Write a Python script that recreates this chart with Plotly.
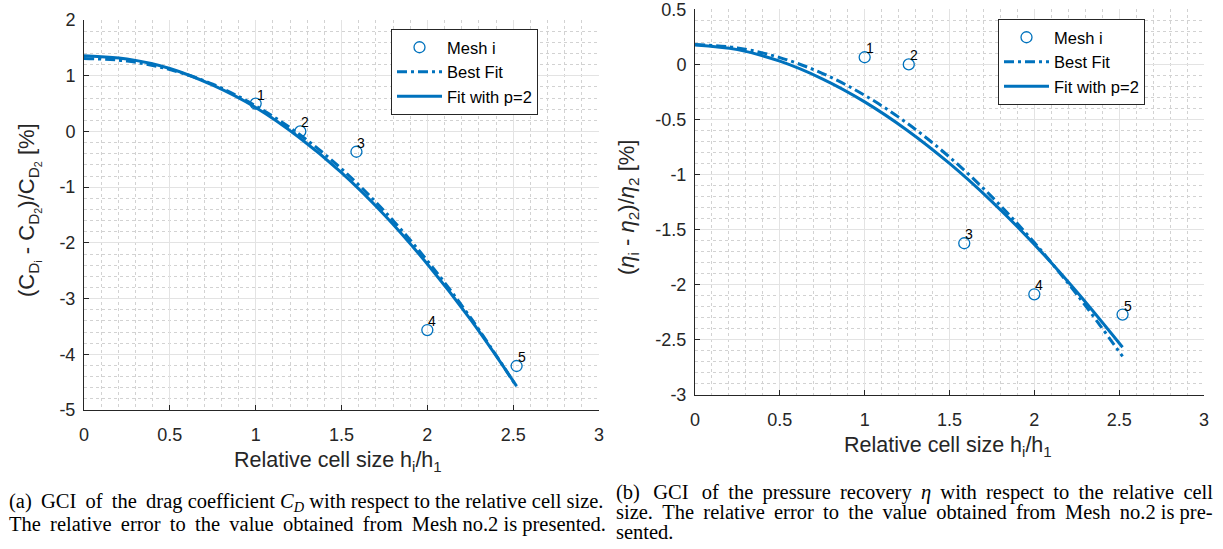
import plotly.graph_objects as go

# ---------------- data ----------------
mesh_x = [1.0, 1.26, 1.587, 2.0, 2.52]
mesh_labels = ["1", "2", "3", "4", "5"]
cd_mesh = [0.50, 0.0, -0.365, -3.565, -4.21]
eta_mesh = [0.065, 0.0, -1.623, -2.086, -2.27]

fit_x = [0, 0.25, 0.5, 0.75, 1.0, 1.25, 1.5, 1.75, 2.0, 2.25, 2.52]
cd_best = [1.31, 1.264, 1.11, 0.847, 0.46, -0.042, -0.67, -1.43, -2.32, -3.335, -4.58]
cd_p2 = [1.36, 1.30, 1.13, 0.83, 0.43, -0.10, -0.74, -1.50, -2.38, -3.37, -4.57]
eta_best = [0.18, 0.150, 0.062, -0.081, -0.28, -0.533, -0.841, -1.202, -1.617, -2.086, -2.65]
eta_p2 = [0.176, 0.134, 0.029, -0.131, -0.340, -0.597, -0.899, -1.245, -1.633, -2.063, -2.567]

x_ticks = [0, 0.5, 1, 1.5, 2, 2.5, 3]
x_ticktext = ["0", "0.5", "1", "1.5", "2", "2.5", "3"]
cd_ticks = [-5, -4, -3, -2, -1, 0, 1, 2]
cd_ticktext = ["-5", "-4", "-3", "-2", "-1", "0", "1", "2"]
eta_ticks = [-3, -2.5, -2, -1.5, -1, -0.5, 0, 0.5]
eta_ticktext = ["-3", "-2.5", "-2", "-1.5", "-1", "-0.5", "0", "0.5"]

legend_names = ["Mesh i", "Best Fit", "Fit with p=2"]

# ---------------- style ----------------
W, H = 1223, 549
BLUE = "#0072BD"
SANS = "Liberation Sans, Arial, sans-serif"
SERIF = "Liberation Serif, Times New Roman, serif"
DASHDOT = "10px,4px,3px,4px"
TS = "\u2009"  # thin space used to justify caption lines

def px_x(p):
    return p / W

def px_y(p):
    return 1 - p / H

fig = go.Figure()

panels = [
    ("x", "y", "legend", cd_mesh, cd_best, cd_p2),
    ("x2", "y2", "legend2", eta_mesh, eta_best, eta_p2),
]

for xa, ya, lg, mesh_vals, best_vals, p2_vals in panels:
    fig.add_trace(go.Scatter(
        x=mesh_x, y=mesh_vals, mode="markers", name=legend_names[0],
        marker=dict(symbol="circle-open", size=11, color=BLUE, line=dict(width=1.3, color=BLUE)),
        xaxis=xa, yaxis=ya, legend=lg))
    fig.add_trace(go.Scatter(
        x=fit_x, y=best_vals, mode="lines", name=legend_names[1], line_shape="spline",
        line=dict(color=BLUE, width=3, dash=DASHDOT),
        xaxis=xa, yaxis=ya, legend=lg))
    fig.add_trace(go.Scatter(
        x=fit_x, y=p2_vals, mode="lines", name=legend_names[2], line_shape="spline",
        line=dict(color=BLUE, width=3),
        xaxis=xa, yaxis=ya, legend=lg))

annotations = []
for xa, ya, vals in [("x", "y", cd_mesh), ("x2", "y2", eta_mesh)]:
    for xv, yv, lab in zip(mesh_x, vals, mesh_labels):
        annotations.append(dict(
            x=xv, y=yv, xref=xa, yref=ya, text=lab, showarrow=False,
            xanchor="left", yanchor="bottom", xshift=-1, yshift=-1,
            font=dict(family=SANS, size=14, color="black")))

# axis titles
xtitle = "Relative cell size h<sub>i</sub>/h<sub>1</sub>"
annotations.append(dict(x=px_x(338), y=px_y(446), xref="paper", yref="paper", text=xtitle,
                        showarrow=False, xanchor="center", yanchor="top",
                        font=dict(family=SANS, size=21.5, color="#262626")))
annotations.append(dict(x=px_x(948), y=px_y(431), xref="paper", yref="paper", text=xtitle,
                        showarrow=False, xanchor="center", yanchor="top",
                        font=dict(family=SANS, size=21.5, color="#262626")))
annotations.append(dict(
    x=px_x(29), y=px_y(210), xref="paper", yref="paper",
    text="(C<sub>D<sub>i</sub></sub> - C<sub>D<sub>2</sub></sub>)/C<sub>D<sub>2</sub></sub> [%]",
    showarrow=False, textangle=-90, xanchor="center", yanchor="middle",
    font=dict(family=SANS, size=22, color="#262626")))
annotations.append(dict(
    x=px_x(628), y=px_y(208), xref="paper", yref="paper",
    text="(<i>η</i><sub>i</sub> - <i>η</i><sub>2</sub>)/<i>η</i><sub>2</sub> [%]",
    showarrow=False, textangle=-90, xanchor="center", yanchor="middle",
    font=dict(family=SANS, size=22, color="#262626")))

# captions
def spread(s, n, extra=0):
    """add thin spaces after word gaps so the line is justified"""
    parts = s.split(" ")
    out = parts[0]
    for k, p in enumerate(parts[1:]):
        out += " " + (TS if k < n else "") + (TS if k < extra else "") + p
    return out

cap_a = [spread("(a) GCI of the drag coefficient <i>C</i><sub><i>D</i></sub> with respect to the relative cell size.", 4),
         spread("The relative error to the value obtained from Mesh no.2 is presented.", 8)]
cap_b = [spread("(b) GCI of the pressure recovery <i>η</i> with respect to the relative cell", 12, 2),
         spread("size. The relative error to the value obtained from Mesh no.2 is pre-", 10),
         "sented."]
for i, line in enumerate(cap_a):
    annotations.append(dict(x=px_x(7), y=px_y(502 + 22 * i), xref="paper", yref="paper", text=line,
                            showarrow=False, xanchor="left", yanchor="middle",
                            font=dict(family=SERIF, size=20.5, color="black")))
for i, line in enumerate(cap_b):
    annotations.append(dict(x=px_x(614), y=px_y(492 + 20 * i), xref="paper", yref="paper", text=line,
                            showarrow=False, xanchor="left", yanchor="middle",
                            font=dict(family=SERIF, size=20.5, color="black")))

axis_common = dict(
    showline=True, linecolor="#262626", linewidth=1, mirror=False, automargin=False,
    ticks="inside", ticklen=5, tickcolor="#262626", tickwidth=1,
    showgrid=True, gridcolor="#e3e3e3", gridwidth=1, zeroline=False,
    ticklabeloverflow="allow",
    tickfont=dict(family=SANS, size=18, color="#262626"),
    minor=dict(showgrid=True, gridcolor="#d2d2d2", griddash="dot", gridwidth=1, ticks=""),
)

legend_common = dict(xanchor="left", yanchor="top", bgcolor="white", bordercolor="#262626",
                     borderwidth=1, itemwidth=45, tracegroupgap=0,
                     font=dict(family=SANS, size=16.5, color="black"))

fig.update_layout(
    width=W, height=H, margin=dict(l=0, r=0, t=0, b=0, autoexpand=False),
    paper_bgcolor="white", plot_bgcolor="white",
    xaxis=dict(domain=[px_x(84), px_x(599)], range=[0, 3], tickvals=x_ticks, ticktext=x_ticktext,
               anchor="y", ticklabelstandoff=8, **axis_common),
    yaxis=dict(domain=[px_y(410), px_y(20)], range=[-5, 2], tickvals=cd_ticks, ticktext=cd_ticktext,
               anchor="x", ticklabelstandoff=4, **axis_common),
    xaxis2=dict(domain=[px_x(695), px_x(1204)], range=[0, 3], tickvals=x_ticks, ticktext=x_ticktext,
                anchor="y2", ticklabelstandoff=8, **axis_common),
    yaxis2=dict(domain=[px_y(395), px_y(9.3)], range=[-3, 0.5], tickvals=eta_ticks, ticktext=eta_ticktext,
                anchor="x2", ticklabelstandoff=4, **axis_common),
    legend=dict(x=px_x(391), y=px_y(29), **legend_common),
    legend2=dict(x=px_x(998), y=px_y(19), **legend_common),
    annotations=annotations,
    showlegend=True,
)
fig.update_xaxes(minor_dtick=0.1)
fig.update_layout(yaxis=dict(minor=dict(dtick=0.2)), yaxis2=dict(minor=dict(dtick=0.1)))

# remove the default 8px page margin so the figure fills the window exactly
fig.write_html("out.html", config={"displayModeBar": False},
               post_script="document.body.style.margin='0';")
